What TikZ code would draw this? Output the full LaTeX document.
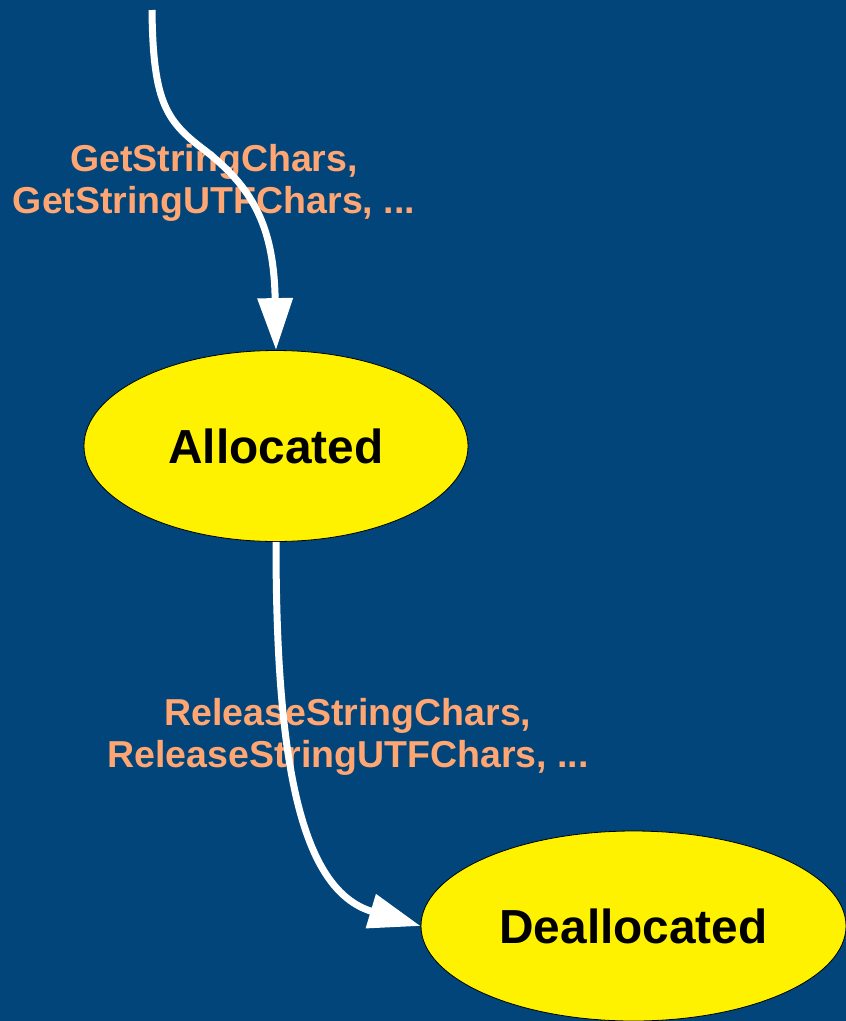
\documentclass[tikz,border=0pt]{standalone}
\usepackage{fontspec}
\setmainfont{Liberation Sans}
\usetikzlibrary{shapes.geometric,arrows.meta}
\definecolor{bg}{RGB}{1,69,122}
\definecolor{labelorange}{RGB}{255,166,115}
\begin{document}
\begin{tikzpicture}[x=1pt,y=-1pt,
  state/.style={ellipse, draw=black, line width=0.8pt, fill=yellow, inner sep=0pt,
    font=\fontsize{47.8}{52}\selectfont\bfseries},
  transition/.style={draw=white, line width=7pt, -{Triangle[width=34pt,length=52pt]}},
  event/.style={text=labelorange, align=center, inner sep=0pt,
    font=\fontsize{37.5}{42}\selectfont\bfseries}]
  % canvas
  \fill[bg] (0,0) rectangle (846,1021);
  \useasboundingbox (0,0) rectangle (846,1021);
  \clip (0,0) rectangle (846,1021);

  % states
  \node[state, minimum width=384pt, minimum height=191pt] (alloc) at (276,446) {Allocated};
  \node[state, minimum width=425pt, minimum height=190pt] (dealloc) at (633.5,926) {Deallocated};

  % transition labels
  \node[event] (getlbl) at (214,182.5) {GetStringChars,\\GetStringUTFChars, ...};
  \node[event] (rellbl) at (348,737) {ReleaseStringChars,\\ReleaseStringUTFChars, ...};

  % transitions
  \coordinate (start) at (152,10);
  \draw[transition] (start) .. controls (153,105) and (167,122) .. (207,152)
                            .. controls (255,190) and (274,230) .. (alloc.north);
  \draw[transition] (alloc.south) .. controls (276,760) and (300,890) .. (dealloc.west);
\end{tikzpicture}
\end{document}
